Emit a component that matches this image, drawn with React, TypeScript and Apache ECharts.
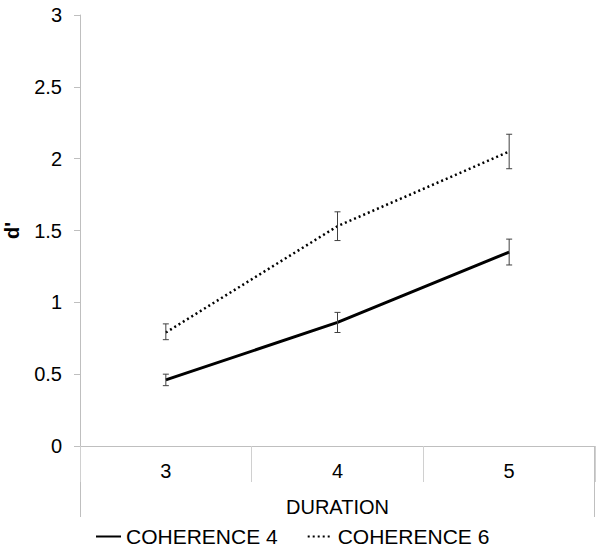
import React, { useEffect, useRef } from "react";
import * as echarts from "echarts";

const categories = ["3", "4", "5"];
const coherence4 = [0.46, 0.86, 1.35];
const coherence4Low = [0.42, 0.79, 1.26];
const coherence4High = [0.5, 0.93, 1.44];
const coherence6 = [0.79, 1.53, 2.05];
const coherence6Low = [0.74, 1.43, 1.93];
const coherence6High = [0.85, 1.63, 2.17];
const seriesNames = ["COHERENCE 4", "COHERENCE 6"];

const FONT = "Liberation Sans, Arial, sans-serif";
const GRID = { left: 80, right: 7, top: 15, bottom: 104 };
const W = 602;
const H = 550;

export default function App() {
  const ref = useRef<HTMLDivElement>(null);
  useEffect(() => {
    document.body.style.margin = "0";
    const chart = echarts.init(ref.current!, null, { renderer: "svg" });
    const errData = (lo: number[], hi: number[]) =>
      categories.map((_, i) => [i, lo[i], hi[i]]);
    const renderErr = (params: any, api: any) => {
      const x = api.value(0);
      const lo = api.coord([x, api.value(1)]);
      const hi = api.coord([x, api.value(2)]);
      const cap = 3;
      const style = { stroke: "#404040", lineWidth: 1 };
      return {
        type: "group",
        children: [
          { type: "line", shape: { x1: lo[0], y1: lo[1], x2: hi[0], y2: hi[1] }, style },
          { type: "line", shape: { x1: lo[0] - cap, y1: lo[1], x2: lo[0] + cap, y2: lo[1] }, style },
          { type: "line", shape: { x1: hi[0] - cap, y1: hi[1], x2: hi[0] + cap, y2: hi[1] }, style },
        ],
      };
    };
    const axisBottom = H - GRID.bottom;
    const lineStyle = { stroke: "#bfbfbf", lineWidth: 1 };
    chart.setOption({
      animation: false,
      textStyle: { fontFamily: FONT },
      grid: { ...GRID, containLabel: false, outerBoundsMode: "none" },
      legend: {
        data: seriesNames,
        left: 95,
        top: 526,
        padding: 0,
        itemWidth: 25,
        itemHeight: 14,
        itemGap: 29,
        itemStyle: { opacity: 0 },
        textStyle: { fontFamily: FONT, fontSize: 21, color: "#000" },
      },
      xAxis: {
        type: "category",
        data: categories,
        boundaryGap: true,
        axisLine: { lineStyle: { color: "#bfbfbf", width: 1 } },
        axisTick: { show: true, length: 36, lineStyle: { color: "#d0d0d0" } },
        axisLabel: { fontFamily: FONT, fontSize: 20, color: "#000", margin: 15 },
        name: "DURATION",
        nameLocation: "middle",
        nameGap: 51,
        nameTextStyle: { fontFamily: FONT, fontSize: 20, color: "#000" },
      },
      yAxis: {
        type: "value",
        min: 0,
        max: 3,
        interval: 0.5,
        splitLine: { show: false },
        axisLine: { show: true, lineStyle: { color: "#bfbfbf", width: 1 } },
        axisTick: { show: true, length: 6, lineStyle: { color: "#bfbfbf" } },
        axisLabel: { fontFamily: FONT, fontSize: 20, color: "#000", margin: 18 },
        name: "d'",
        nameLocation: "middle",
        nameRotate: 90,
        nameGap: 58,
        nameTextStyle: { fontFamily: FONT, fontSize: 20, fontWeight: "bold", color: "#000" },
      },
      graphic: [
        {
          type: "line",
          shape: { x1: GRID.left + 0.5, y1: axisBottom, x2: GRID.left + 0.5, y2: 517 },
          style: lineStyle,
        },
        {
          type: "line",
          shape: { x1: W - GRID.right - 0.5, y1: axisBottom, x2: W - GRID.right - 0.5, y2: 517 },
          style: lineStyle,
        },
      ],
      series: [
        {
          name: seriesNames[0],
          type: "line",
          data: coherence4,
          symbol: "none",
          lineStyle: { color: "#000", width: 3, type: "solid" },
          itemStyle: { color: "#000" },
          z: 3,
        },
        {
          name: seriesNames[1],
          type: "line",
          data: coherence6,
          symbol: "none",
          lineStyle: { color: "#000", width: 2.5, type: [2, 3] },
          itemStyle: { color: "#000" },
          z: 3,
        },
        {
          type: "custom",
          renderItem: renderErr,
          data: errData(coherence4Low, coherence4High),
          z: 4,
        },
        {
          type: "custom",
          renderItem: renderErr,
          data: errData(coherence6Low, coherence6High),
          z: 4,
        },
      ],
    });
    return () => chart.dispose();
  }, []);
  return <div ref={ref} style={{ width: W, height: H }} />;
}
